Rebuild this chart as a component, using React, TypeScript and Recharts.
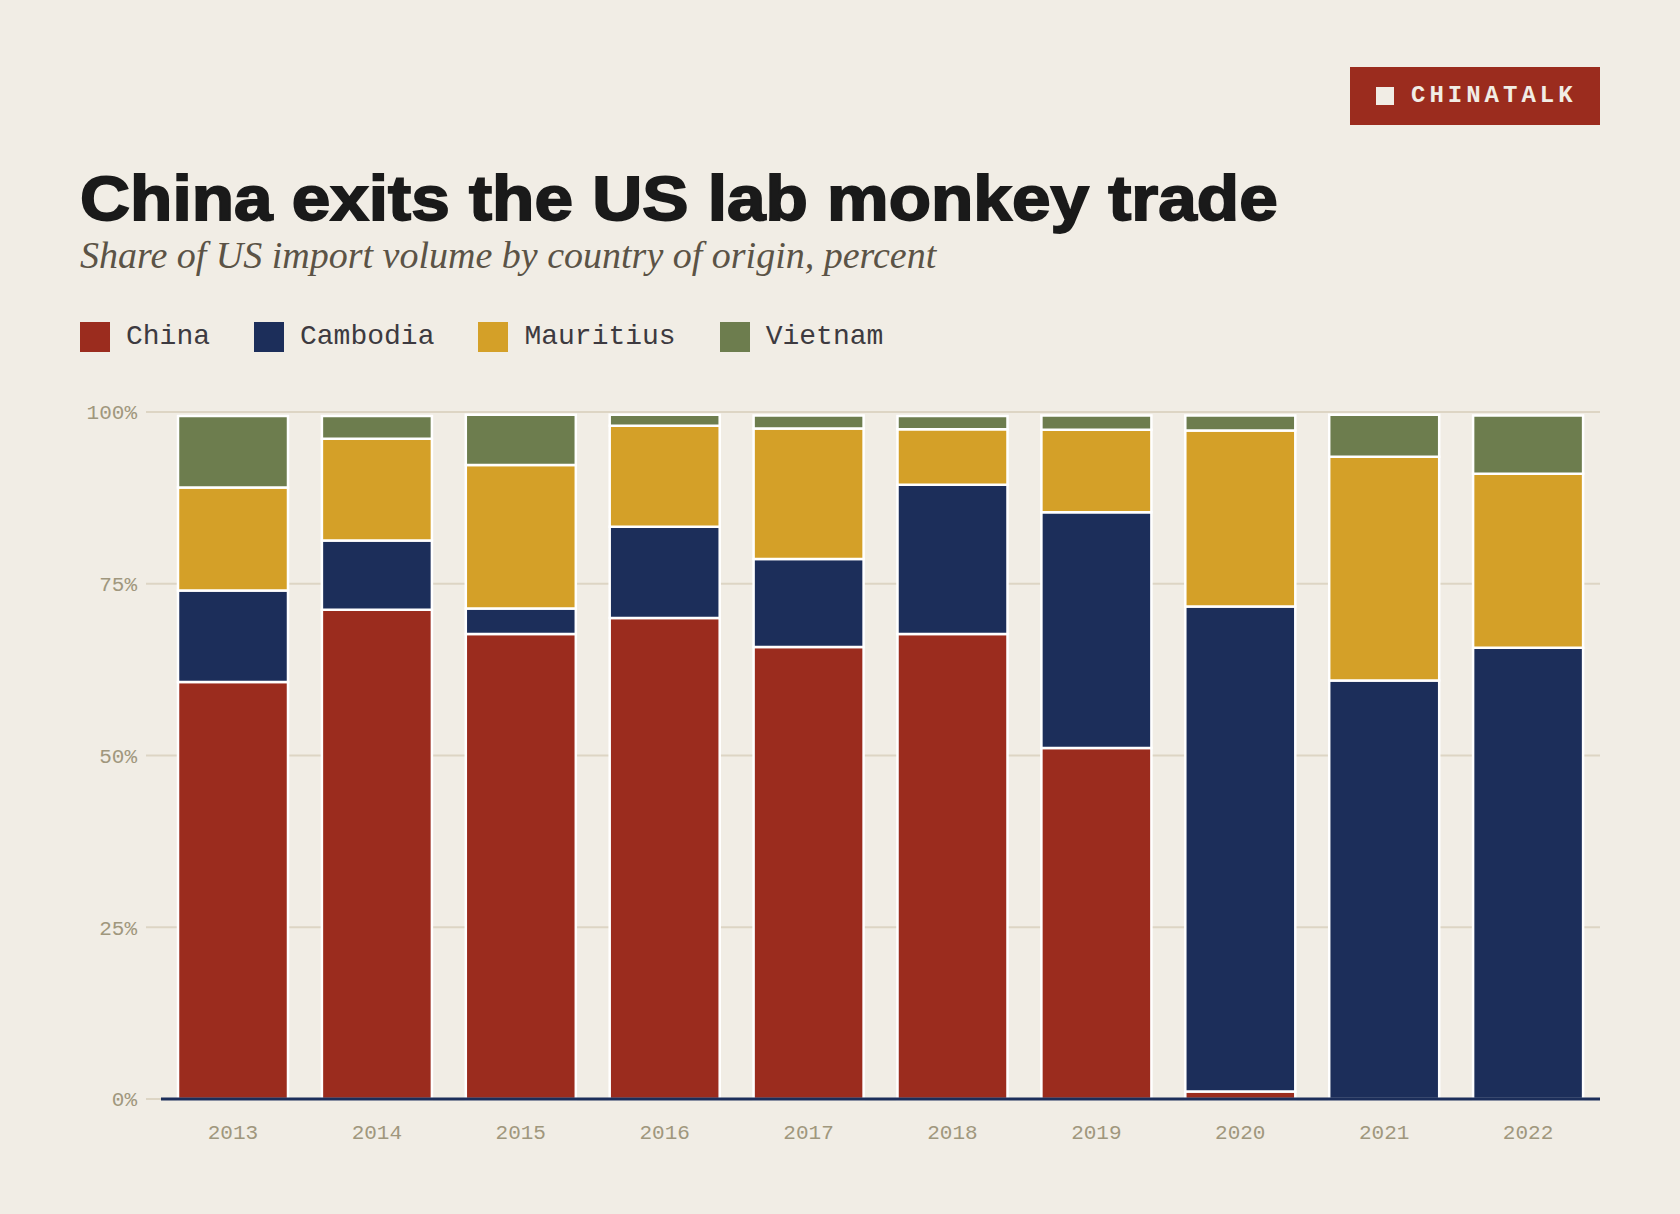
import React from "react";
import { BarChart, Bar, XAxis, YAxis, CartesianGrid } from "recharts";

// share of US import volume, percent
const years = ["2013", "2014", "2015", "2016", "2017", "2018", "2019", "2020", "2021", "2022"];
const china = [60.7, 71.2, 67.7, 70.0, 65.8, 67.7, 51.1, 1.1, 0, 0];
const cambodia = [13.3, 10.1, 3.7, 13.3, 12.8, 21.7, 34.3, 70.6, 60.9, 65.7];
const mauritius = [15.0, 14.8, 20.9, 14.7, 19.0, 8.1, 12.0, 25.6, 32.6, 25.3];
const vietnam = [10.4, 3.3, 7.3, 1.6, 1.9, 1.9, 2.1, 2.2, 6.1, 8.5];

const seriesNames = ["China", "Cambodia", "Mauritius", "Vietnam"];
const seriesColors = ["#9b2c1e", "#1c2e5a", "#d4a028", "#6d7d4e"];
const yTicks = [0, 25, 50, 75, 100];

const BG = "#f1ede5";
const GRID = "#ddd5c4";
const TICK = "#a0977d";
const NAVY = "#1c2e5a";

const rows = years.map((year, i) => ({
  year,
  China: china[i],
  Cambodia: cambodia[i],
  Mauritius: mauritius[i],
  Vietnam: vietnam[i],
}));

const tickStyle = { fill: TICK, fontFamily: "'Liberation Mono', monospace", fontSize: 21 };

function Badge() {
  return (
    <div
      style={{
        position: "absolute",
        left: 1350,
        top: 67,
        width: 250,
        height: 58,
        background: "#9b2c1e",
        display: "flex",
        alignItems: "center",
      }}
    >
      <div style={{ width: 18, height: 18, background: BG, marginLeft: 26, marginRight: 17 }} />
      <span
        style={{
          fontFamily: "'Liberation Mono', monospace",
          fontWeight: 700,
          fontSize: 24,
          letterSpacing: 4,
          color: BG,
          lineHeight: "24px",
        }}
      >
        CHINATALK
      </span>
    </div>
  );
}

function LegendRow() {
  return (
    <div style={{ position: "absolute", left: 80, top: 322, display: "flex", height: 30 }}>
      {seriesNames.map((name, i) => (
        <div key={name} style={{ display: "flex", alignItems: "center", marginRight: 44 }}>
          <div style={{ width: 30, height: 30, background: seriesColors[i], marginRight: 16 }} />
          <span
            style={{
              fontFamily: "'Liberation Mono', monospace",
              fontSize: 28,
              lineHeight: "30px",
              color: "#3d3a40",
            }}
          >
            {name}
          </span>
        </div>
      ))}
    </div>
  );
}

export default function App() {
  return (
    <div
      style={{
        position: "absolute",
        left: 0,
        top: 0,
        width: 1680,
        height: 1214,
        background: BG,
        overflow: "hidden",
      }}
    >
      <Badge />
      <div
        style={{
          position: "absolute",
          left: 80,
          top: 167,
          fontFamily: "'Liberation Sans', Arial, sans-serif",
          fontWeight: 700,
          fontSize: 63,
          lineHeight: "63px",
          color: "#1a1a1a",
          whiteSpace: "nowrap",
          transform: "scaleX(1.1)",
          transformOrigin: "left top",
          WebkitTextStroke: "1.8px #1a1a1a",
        }}
      >
        China exits the US lab monkey trade
      </div>
      <div
        style={{
          position: "absolute",
          left: 80,
          top: 236,
          fontFamily: "'Liberation Serif', serif",
          fontStyle: "italic",
          fontSize: 38,
          lineHeight: "38px",
          color: "#5b5346",
          whiteSpace: "nowrap",
        }}
      >
        Share of US import volume by country of origin, percent
      </div>
      <LegendRow />
      <div style={{ position: "absolute", left: 0, top: 380 }}>
        <BarChart
          width={1680}
          height={834}
          data={rows}
          margin={{ top: 32, right: 80, bottom: 55, left: 0 }}
          barSize={110}
        >
          <CartesianGrid vertical={false} stroke={GRID} strokeWidth={2} />
          <YAxis
            domain={[0, 100]}
            ticks={yTicks}
            width={161}
            axisLine={false}
            tickLine={{ stroke: GRID, strokeWidth: 2 }}
            tickSize={15}
            tickMargin={9}
            tickFormatter={(v: number) => `${v}%`}
            tick={tickStyle}
          />
          {seriesNames.map((name, i) => (
            <Bar
              key={name}
              dataKey={name}
              stackId="share"
              fill={seriesColors[i]}
              stroke="#ffffff"
              strokeWidth={2.5}
              isAnimationActive={false}
            />
          ))}
          <XAxis
            dataKey="year"
            interval={0}
            axisLine={{ stroke: NAVY, strokeWidth: 3 }}
            tickLine={false}
            tickSize={6}
            tickMargin={19}
            height={60}
            tick={tickStyle}
          />
        </BarChart>
      </div>
    </div>
  );
}
